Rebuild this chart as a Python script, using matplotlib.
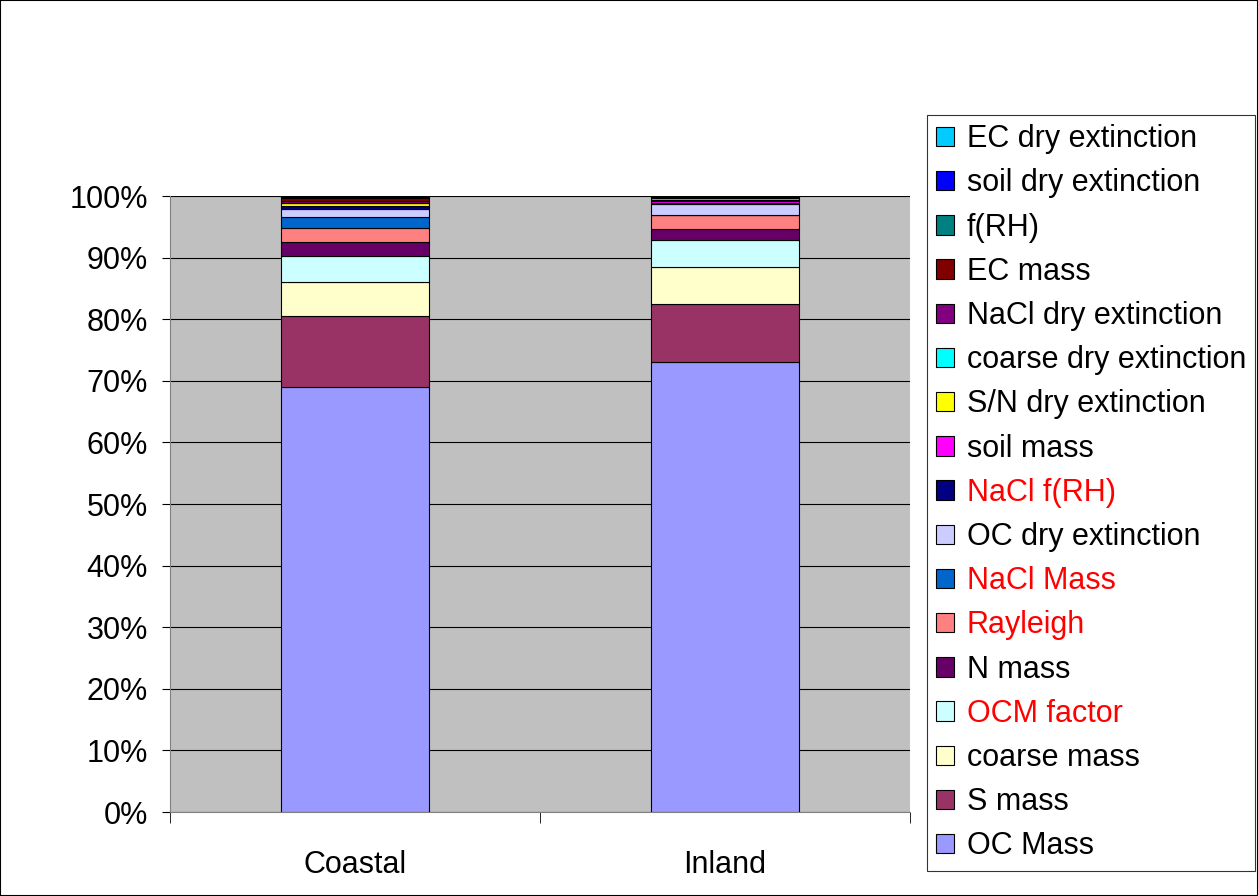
import numpy as np
import matplotlib
matplotlib.use("Agg")
import matplotlib.pyplot as plt
from matplotlib.patches import Rectangle

plt.rcParams['font.family'] = ['Liberation Sans', 'DejaVu Sans']

# categories and series (percent of total)
sites = ["Coastal", "Inland"]
series = ["OC Mass", "S mass", "coarse mass", "OCM factor", "N mass", "Rayleigh",
          "NaCl Mass", "OC dry extinction", "NaCl f(RH)", "soil mass",
          "S/N dry extinction", "coarse dry extinction", "NaCl dry extinction",
          "EC mass", "f(RH)", "soil dry extinction", "EC dry extinction"]
coastal = [69.0, 11.5, 5.5, 4.2, 2.3, 2.3, 1.8, 1.3, 0.4, 0.1,
           0.4, 0.1, 0.3, 0.4, 0.2, 0.1, 0.1]
inland = [73.2, 9.4, 6.0, 4.4, 1.8, 2.2, 0.05, 1.8, 0.05, 0.4,
          0.1, 0.3, 0.1, 0.1, 0.1, 0.05, 0.05]
colors = ["#9999FF", "#993366", "#FFFFCC", "#CCFFFF", "#660066", "#FF8080",
          "#0066CC", "#CCCCFF", "#000080", "#FF00FF", "#FFFF00", "#00FFFF",
          "#800080", "#800000", "#008080", "#0000FF", "#00CCFF"]
red_labels = ["NaCl f(RH)", "NaCl Mass", "Rayleigh", "OCM factor"]

data = np.array([coastal, inland]).T
data = data / data.sum(axis=0) * 100

fig = plt.figure(figsize=(12.58, 8.96), dpi=100)
ax = fig.add_axes([170/1258, 1-812/896, 740/1258, 616/896])
ax.set_facecolor("#C0C0C0")

x = np.arange(len(sites))
bottom = np.zeros(len(sites))
handles = []
for name, vals, c in zip(series, data, colors):
    b = ax.bar(x, vals, 0.4, bottom=bottom, color=c, edgecolor="black",
               linewidth=0.8, label=name, zorder=3)
    handles.append(b)
    bottom += vals

ax.set_xlim(-0.5, 1.5)
ax.set_ylim(0, 100)
ax.set_yticks(np.arange(0, 101, 10))
ax.set_yticklabels([f"{v}%" for v in range(0, 101, 10)], fontsize=22)
ax.yaxis.grid(True, color="black", linewidth=0.8, zorder=0)
ax.set_xticks(x)
ax.set_xticklabels(sites, fontsize=22)
ax.tick_params(axis="x", length=0, pad=27)
ax.set_xticks([-0.5, 0.5, 1.5], minor=True)
ax.tick_params(axis="x", which="minor", length=8, direction="out")
ax.tick_params(axis="y", length=6, direction="out", pad=10)
for s in ["top", "right"]:
    ax.spines[s].set_visible(False)
ax.spines["left"].set_color("#808080")
ax.spines["bottom"].set_color("#808080")

leg = fig.legend(handles[::-1], series[::-1], loc="upper left",
                 bbox_to_anchor=(927/1258, 1-115/896), fontsize=22,
                 frameon=True, fancybox=False, edgecolor="black",
                 handlelength=0.6, handleheight=0.6, handletextpad=0.4,
                 labelspacing=0.465, borderpad=0.3, borderaxespad=0)
leg.get_frame().set_linewidth(0.8)
for t in leg.get_texts():
    if t.get_text() in red_labels:
        t.set_color("red")

fig.patches.append(Rectangle((0, 0), 1, 1, transform=fig.transFigure,
                             fill=False, edgecolor="black", linewidth=1.5))

fig.savefig("out.png", dpi=100)
